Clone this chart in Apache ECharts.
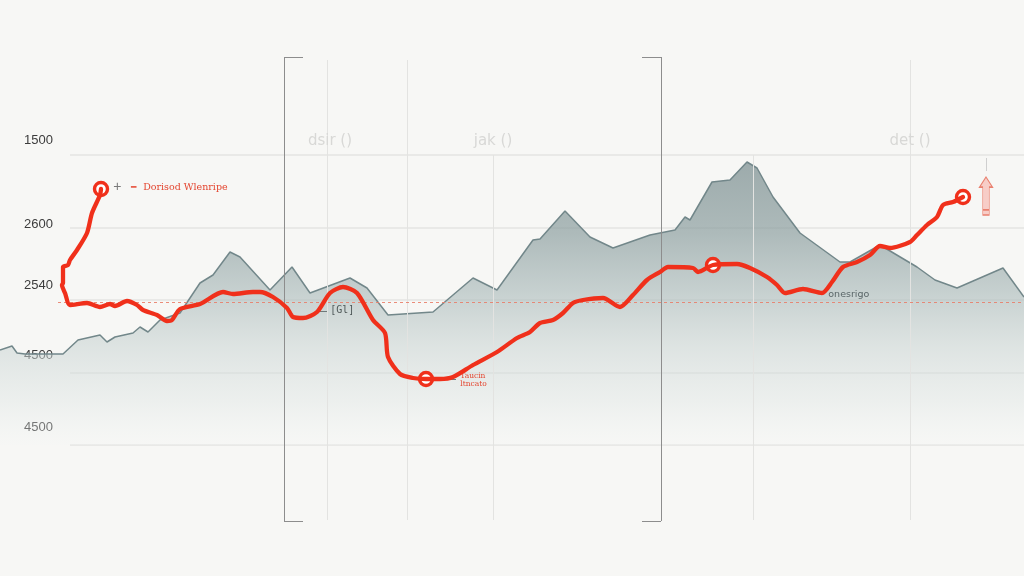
<!DOCTYPE html>
<html>
<head>
<meta charset="utf-8">
<script src="https://cdn.jsdelivr.net/npm/echarts@6/dist/echarts.min.js"></script>
<style>
html,body{margin:0;padding:0;background:#f7f7f5;}
#c{width:1024px;height:576px;}
</style>
</head>
<body>
<div id="c"></div>
<script>
// ---- data ----
const yTickLabels = ['4500', '4500', '2540', '2600', '1500'];
const headerNames = ['dsir ()', 'jak ()', 'det ()'];
const headerX = [330, 493, 910];

const terrainX = [0, 12, 17, 25, 63, 78, 100, 107, 115, 133, 140, 148, 160, 180, 200, 213, 230, 240, 270, 292, 310, 350, 367, 388, 433, 473, 497, 533, 540, 565, 590, 613, 650, 675, 685, 690, 712, 730, 747, 757, 773, 800, 840, 850, 880, 917, 935, 957, 1003, 1024];
const terrainY = [950, 990, 920, 910, 910, 1050, 1100, 1030, 1080, 1120, 1180, 1130, 1250, 1320, 1620, 1700, 1930, 1880, 1550, 1780, 1520, 1670, 1570, 1300, 1330, 1670, 1550, 2050, 2060, 2340, 2080, 1970, 2100, 2150, 2280, 2250, 2630, 2650, 2830, 2770, 2480, 2120, 1830, 1830, 2000, 1780, 1650, 1570, 1770, 1480];

const routeX = [101, 100, 92, 87, 77, 70, 68, 63, 63, 62, 65, 70, 87, 100, 110, 115, 127, 137, 143, 157, 167, 172, 180, 200, 223, 233, 253, 260, 273, 287, 293, 303, 317, 330, 343, 357, 373, 385, 388, 400, 413, 426, 440, 453, 473, 497, 517, 530, 540, 553, 563, 573, 583, 603, 620, 633, 647, 660, 668, 693, 698, 713, 737, 750, 767, 777, 785, 803, 822, 832, 843, 857, 870, 880, 890, 910, 917, 927, 937, 943, 953, 963];
const routeY = [2560, 2500, 2320, 2120, 1950, 1850, 1800, 1780, 1620, 1600, 1520, 1400, 1420, 1380, 1410, 1390, 1440, 1400, 1350, 1300, 1240, 1250, 1360, 1410, 1530, 1510, 1530, 1530, 1480, 1370, 1280, 1270, 1330, 1520, 1580, 1520, 1250, 1120, 880, 710, 670, 660, 660, 680, 800, 930, 1070, 1130, 1220, 1250, 1320, 1420, 1450, 1470, 1380, 1500, 1650, 1730, 1780, 1770, 1730, 1800, 1810, 1770, 1680, 1600, 1520, 1560, 1520, 1630, 1780, 1830, 1900, 1990, 1970, 2030, 2100, 2200, 2280, 2400, 2430, 2480];
const markerIdx = [0, 41, 61, 81];

const refValue = 1430;
const bracketX = [284, 661];
const fullGuideX = [327, 407, 910];
const partGuideX = [493, 753];

// ---- chart ----
const Y_MIN = -760, Y_MAX = 3880;
const RED = '#f0301b';
const FONT = 'Liberation Sans, Arial, sans-serif';

const chart = echarts.init(document.getElementById('c'), null, {renderer: 'canvas'});

function seg(a, b) { return [{coord: a}, {coord: b}]; }

const backLines = fullGuideX.map(x => seg([x, 3850], [x, -750]))
  .concat(partGuideX.map(x => seg([x, 2900], [x, -750])));

const bracketLines = [
  seg([bracketX[0], Y_MAX], [bracketX[0], Y_MIN]),
  seg([bracketX[0], Y_MAX], [bracketX[0] + 19, Y_MAX]),
  seg([bracketX[0], Y_MIN], [bracketX[0] + 19, Y_MIN]),
  seg([bracketX[1], Y_MAX], [bracketX[1], Y_MIN]),
  seg([bracketX[1] - 19, Y_MAX], [bracketX[1], Y_MAX]),
  seg([bracketX[1] - 19, Y_MIN], [bracketX[1], Y_MIN])
].map(l => { l[0].lineStyle = {color: '#8d8d8d', width: 1, type: 'solid'}; return l; });

const refLine = seg([58, refValue], [1024, refValue]);
refLine[0].lineStyle = {color: '#e8806b', width: 1, type: [3, 3], opacity: 0.9};

const tickLines = [
  seg([986, 2870], [986, 2740]),
  seg([316, 1340], [327, 1340]),
  seg([437, 655], [456, 655])
].map(l => { l[0].lineStyle = {color: '#6f7a7a', width: 1, type: 'solid'}; return l; });
tickLines[0][0].lineStyle = {color: '#cfcfcf', width: 1, type: 'solid'};

const headerPoints = headerNames.map((n, i) => ({
  coord: [headerX[i], 3030], symbolSize: 1, itemStyle: {color: 'rgba(0,0,0,0)'},
  label: {show: true, position: 'inside', formatter: n, color: '#d8d8d6', fontSize: 15, fontFamily: 'DejaVu Sans, sans-serif'}
}));

const annPoints = [
  {coord: [113, 2570], label: {formatter: '{p|+}   {d|━}  {t|Dorisod Wlenripe}', rich: {
    p: {color: '#7a7a7a', fontSize: 14, fontFamily: FONT},
    d: {color: '#e4452f', fontSize: 9, fontFamily: FONT},
    t: {color: '#e4452f', fontSize: 9.5, fontFamily: 'DejaVu Serif, serif'}}}},
  {coord: [330, 1340], label: {formatter: '[Gl]', color: '#4f5858', fontSize: 10, fontFamily: 'DejaVu Sans Mono, monospace'}},
  {coord: [460, 650], label: {formatter: 'Taucin\nltncato', color: '#e4452f', fontSize: 7.5, lineHeight: 8, fontFamily: 'DejaVu Serif, serif'}},
  {coord: [828, 1505], label: {formatter: 'onesrigo', color: '#5a6668', fontSize: 9.5, fontFamily: 'DejaVu Sans, sans-serif'}}
].map(p => Object.assign({symbolSize: 1, itemStyle: {color: 'rgba(0,0,0,0)'}}, p, {
  label: Object.assign({show: true, position: 'right', distance: 0}, p.label)
}));

const arrowPoint = {
  coord: [986, 2490],
  symbol: 'path://M6,0 L12,8 L9,8 L9,30 L3,30 L3,8 L0,8 Z M3,26 L9,26 L9,30 L3,30 Z',
  symbolSize: [13, 38],
  itemStyle: {color: '#f7cdc7', borderColor: '#e9806f', borderWidth: 1},
  label: {show: false}
};

const markerPoints = markerIdx.map(i => ({
  coord: [routeX[i], routeY[i]], symbol: 'circle', symbolSize: 13,
  itemStyle: {color: '#ffffff', borderColor: RED, borderWidth: 3.4},
  label: {show: false}
}));

const option = {
  backgroundColor: '#f7f7f5',
  animation: false,
  grid: [
    {left: 0, right: 0, top: 57, bottom: 55},
    {left: 70, right: 0, top: 155, bottom: 131}
  ],
  xAxis: [
    {type: 'value', gridIndex: 0, min: 0, max: 1024, show: false},
    {type: 'value', gridIndex: 1, min: 0, max: 1, show: false}
  ],
  yAxis: [
    {type: 'value', gridIndex: 0, min: Y_MIN, max: Y_MAX, show: false},
    {
      type: 'value', gridIndex: 1, min: 0, max: 2900, interval: 725,
      axisLine: {show: false}, axisTick: {show: false},
      splitLine: {show: true, lineStyle: {color: '#e4e4e2', width: 1.5}},
      axisLabel: {
        show: true, align: 'left', margin: 46, verticalAlign: 'middle',
        formatter: function (v) {
          const i = Math.round(v / 725);
          const key = ['a', 'a', 'd', 'b', 'c'][i];
          return '{' + key + '|' + yTickLabels[i] + '}';
        },
        rich: {
          a: {color: '#3c3c3c', fontSize: 13, fontFamily: FONT, padding: [0, 0, 35, 0]},
          d: {color: '#3c3c3c', fontSize: 13, fontFamily: FONT, padding: [0, 0, 30, 0]},
          b: {color: '#3c3c3c', fontSize: 13, fontFamily: FONT, padding: [0, 0, 6, 0]},
          c: {color: '#3c3c3c', fontSize: 13, fontFamily: FONT, padding: [0, 0, 30, 0]}
        }
      }
    }
  ],
  series: [
    {
      name: 'guidesBack', type: 'line', xAxisIndex: 0, yAxisIndex: 0, z: 1, data: [],
      markLine: {silent: true, symbol: ['none', 'none'], label: {show: false},
        lineStyle: {color: '#e3e3e1', width: 1, type: 'solid'}, data: backLines}
    },
    {
      name: 'terrain', type: 'line', xAxisIndex: 0, yAxisIndex: 0, z: 2,
      data: terrainX.map((x, i) => [x, terrainY[i]]),
      showSymbol: false, smooth: false,
      lineStyle: {color: '#72878a', width: 1.5},
      areaStyle: {
        color: new echarts.graphic.LinearGradient(0, 0, 0, 1, [
          {offset: 0, color: 'rgba(118,138,140,1)'},
          {offset: 0.25, color: 'rgba(138,157,158,0.97)'},
          {offset: 0.45, color: 'rgba(168,184,184,0.9)'},
          {offset: 0.65, color: 'rgba(200,211,210,0.78)'},
          {offset: 0.85, color: 'rgba(222,229,228,0.6)'},
          {offset: 1, color: 'rgba(244,246,245,0.35)'}
        ])
      }
    },
    {
      name: 'guidesFront', type: 'line', xAxisIndex: 0, yAxisIndex: 0, z: 3, data: [],
      markLine: {silent: true, symbol: ['none', 'none'], label: {show: false},
        data: bracketLines.concat([refLine]).concat(tickLines)},
      markPoint: {silent: true, data: headerPoints.concat(annPoints).concat([arrowPoint])}
    },
    {
      name: 'route', type: 'line', xAxisIndex: 0, yAxisIndex: 0, z: 5,
      data: routeX.map((x, i) => [x, routeY[i]]),
      showSymbol: false, smooth: 0.25,
      lineStyle: {color: RED, width: 4.3, cap: 'round', join: 'round'},
      markPoint: {silent: true, data: markerPoints}
    }
  ]
};
chart.setOption(option);
</script>
</body>
</html>
